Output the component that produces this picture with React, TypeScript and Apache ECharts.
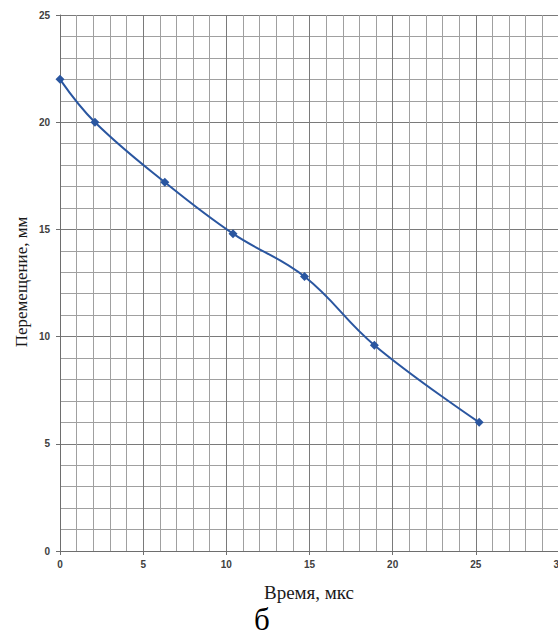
import React, { useEffect, useRef } from "react";
import * as echarts from "echarts";

const timeUs: number[] = [0, 2.1, 6.3, 10.4, 14.7, 18.9, 25.2];
const displacementMm: number[] = [22, 20, 17.2, 14.8, 12.8, 9.6, 6.0];
const xAxisTitle = "Время, мкс";
const yAxisTitle = "Перемещение, мм";
const panelLabel = "б";

export default function App() {
  const ref = useRef<HTMLDivElement>(null);
  useEffect(() => {
    if (!ref.current) return;
    const chart = echarts.init(ref.current, null, { renderer: "svg" });
    const axisLabel = {
      color: "#404040",
      fontSize: 10,
      fontWeight: "bold" as const,
      fontFamily: "'Liberation Sans', Arial, sans-serif",
    };
    chart.setOption({
      animation: false,
      backgroundColor: "#ffffff",
      grid: {
        left: 60,
        top: 15,
        width: 499,
        height: 536,
        containLabel: false,
        outerBoundsMode: "none",
      },
      xAxis: {
        type: "value",
        min: 0,
        max: 30,
        interval: 5,
        axisLine: { show: true, onZero: false, lineStyle: { color: "#6e6e6e", width: 1 } },
        axisTick: { show: true, length: 4, lineStyle: { color: "#6e6e6e" } },
        axisLabel: { ...axisLabel, margin: 8, hideOverlap: false },
        splitLine: { show: true, lineStyle: { color: "#7a7a7a", width: 1 } },
        minorTick: { show: false, splitNumber: 5 },
        minorSplitLine: { show: true, lineStyle: { color: "#a0a0a0", width: 1 } },
      },
      yAxis: {
        type: "value",
        min: 0,
        max: 25,
        interval: 5,
        axisLine: { show: true, onZero: false, lineStyle: { color: "#6e6e6e", width: 1 } },
        axisTick: { show: true, length: 4, lineStyle: { color: "#6e6e6e" } },
        axisLabel: { ...axisLabel, margin: 10 },
        splitLine: { show: true, lineStyle: { color: "#7a7a7a", width: 1 } },
        minorTick: { show: false, splitNumber: 5 },
        minorSplitLine: { show: true, lineStyle: { color: "#a0a0a0", width: 1 } },
      },
      series: [
        {
          type: "line",
          data: timeUs.map((t, i) => [t, displacementMm[i]]),
          smooth: 0.4,
          symbol: "diamond",
          symbolSize: 9,
          showSymbol: true,
          itemStyle: { color: "#2a56a0" },
          lineStyle: { color: "#2a56a0", width: 2 },
        },
      ],
      graphic: [
        {
          type: "text",
          x: 21,
          y: 282,
          rotation: Math.PI / 2,
          style: {
            text: yAxisTitle,
            font: "17px 'Liberation Serif', 'Times New Roman', serif",
            fill: "#1a1a1a",
            textAlign: "center",
            textVerticalAlign: "middle",
          },
        },
        {
          type: "text",
          x: 309,
          y: 592,
          style: {
            text: xAxisTitle,
            font: "19px 'Liberation Serif', 'Times New Roman', serif",
            fill: "#1a1a1a",
            textAlign: "center",
            textVerticalAlign: "middle",
          },
        },
        {
          type: "text",
          x: 262,
          y: 619,
          style: {
            text: panelLabel,
            font: "31px 'Liberation Serif', 'Times New Roman', serif",
            fill: "#000000",
            textAlign: "center",
            textVerticalAlign: "middle",
          },
        },
      ],
    });
    return () => chart.dispose();
  }, []);
  return (
    <div
      ref={ref}
      style={{ position: "absolute", left: 0, top: 0, width: 558, height: 637, background: "#fff" }}
    />
  );
}
